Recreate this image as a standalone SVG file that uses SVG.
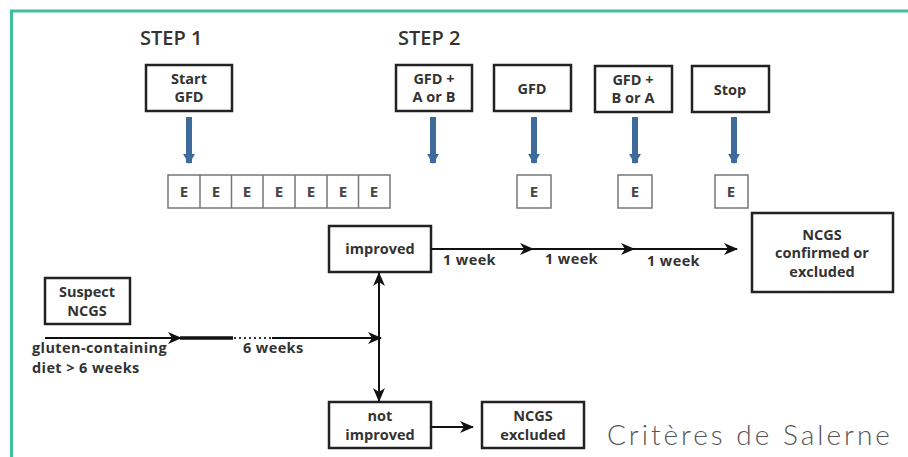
<svg xmlns="http://www.w3.org/2000/svg" width="908" height="457" viewBox="0 0 908 457">
<style>
.t{font-family:"Open Sans","Liberation Sans",sans-serif;font-weight:700;font-size:14.5px;fill:#333;text-anchor:middle}
.tl{font-family:"Open Sans","Liberation Sans",sans-serif;font-weight:700;font-size:14.5px;letter-spacing:0.4px;fill:#333}
.step{font-family:"Open Sans","Liberation Sans",sans-serif;font-weight:600;font-size:20px;fill:#333}
.box{fill:#fff;stroke:#222;stroke-width:2.5}
.ebox{fill:#fff;stroke:#777;stroke-width:1.5}
.e{font-family:"Open Sans","Liberation Sans",sans-serif;font-weight:700;font-size:15px;fill:#444;text-anchor:middle}
.ln{stroke:#111;stroke-width:2;fill:none}
.blue{stroke:#3e6a9c;stroke-width:6;fill:none}
</style>
<defs>
<marker id="ah" viewBox="0 0 14 12" refX="13" refY="6" markerWidth="14" markerHeight="12" orient="auto-start-reverse" markerUnits="userSpaceOnUse">
<path d="M0,0 L14,6 L0,12 L4,6 Z" fill="#111"/>
</marker>
<marker id="bh" viewBox="0 0 10 12" refX="9" refY="6" markerWidth="10" markerHeight="12" orient="auto" markerUnits="userSpaceOnUse">
<path d="M0,0 L10,6 L0,12 Z" fill="#3e6a9c"/>
</marker>
</defs>
<rect width="908" height="457" fill="#fff"/>
<path d="M11.5,457 V11 H908" fill="none" stroke="#41bf9d" stroke-width="3"/>
<text class="step" x="140" y="45">STEP 1</text>
<text class="step" x="398" y="45">STEP 2</text>

<g id="start-gfd"><rect class="box" x="146" y="65" width="86" height="46"/><text class="t" x="189" y="84">Start</text><text class="t" x="189" y="102">GFD</text></g>
<g id="gfd-a-or-b"><rect class="box" x="396" y="65" width="76" height="46"/><text class="t" x="434" y="84">GFD +</text><text class="t" x="434" y="102">A or B</text></g>
<g id="gfd"><rect class="box" x="494" y="65" width="77" height="46"/><text class="t" x="532" y="94">GFD</text></g>
<g id="gfd-b-or-a"><rect class="box" x="595" y="66" width="77" height="46"/><text class="t" x="633" y="85">GFD +</text><text class="t" x="633" y="103">B or A</text></g>
<g id="stop"><rect class="box" x="692" y="66" width="77" height="46"/><text class="t" x="730" y="95">Stop</text></g>

<g id="e-row">
<rect class="ebox" x="168" y="175" width="222" height="33"/>
<path d="M200,175V208M231.5,175V208M263,175V208M295,175V208M327,175V208M358.5,175V208" stroke="#777" stroke-width="1.5"/>
<text class="e" x="184" y="197">E</text><text class="e" x="216" y="197">E</text><text class="e" x="247" y="197">E</text><text class="e" x="279" y="197">E</text><text class="e" x="311" y="197">E</text><text class="e" x="343" y="197">E</text><text class="e" x="374" y="197">E</text>
</g>
<g id="e1"><rect class="ebox" x="517" y="175" width="34" height="33"/><text class="e" x="534" y="197">E</text></g>
<g id="e2"><rect class="ebox" x="618" y="175" width="34" height="33"/><text class="e" x="635" y="197">E</text></g>
<g id="e3"><rect class="ebox" x="715" y="175" width="33" height="33"/><text class="e" x="731" y="197">E</text></g>

<g id="improved"><rect class="box" x="329" y="226" width="102" height="46"/><text class="t" x="380" y="254">improved</text></g>
<g id="not-improved"><rect class="box" x="329" y="402" width="102" height="46"/><text class="t" x="380" y="421">not</text><text class="t" x="380" y="440">improved</text></g>
<g id="ncgs-confirmed"><rect class="box" x="752" y="213" width="141" height="79"/><text class="t" x="822" y="240">NCGS</text><text class="t" x="822" y="258">confirmed or</text><text class="t" x="822" y="277">excluded</text></g>
<g id="suspect"><rect class="box" x="45" y="278" width="85" height="46"/><text class="t" x="87" y="297">Suspect</text><text class="t" x="87" y="316">NCGS</text></g>
<g id="ncgs-excluded"><rect class="box" x="482" y="402" width="102" height="46"/><text class="t" x="533" y="421">NCGS</text><text class="t" x="533" y="440">excluded</text></g>

<g id="connectors">
<line class="blue" x1="189" y1="117" x2="189" y2="163" marker-end="url(#bh)"/>
<line class="blue" x1="433" y1="117" x2="433" y2="163" marker-end="url(#bh)"/>
<line class="blue" x1="534" y1="117" x2="534" y2="163" marker-end="url(#bh)"/>
<line class="blue" x1="635" y1="117" x2="635" y2="163" marker-end="url(#bh)"/>
<line class="blue" x1="734" y1="117" x2="734" y2="163" marker-end="url(#bh)"/>
<line class="ln" x1="45" y1="338" x2="181" y2="338" marker-end="url(#ah)"/>
<line x1="180" y1="338" x2="233" y2="338" stroke="#111" stroke-width="3.5"/>
<line x1="234" y1="338" x2="272" y2="338" stroke="#333" stroke-width="2" stroke-dasharray="2,3"/>
<line class="ln" x1="272" y1="338" x2="381" y2="338" marker-end="url(#ah)"/>
<line class="ln" x1="379" y1="273" x2="379" y2="401" marker-start="url(#ah)" marker-end="url(#ah)"/>
<line class="ln" x1="431" y1="249" x2="533" y2="249" marker-end="url(#ah)"/>
<line class="ln" x1="532" y1="249" x2="634" y2="249" marker-end="url(#ah)"/>
<line class="ln" x1="633" y1="249" x2="737" y2="249" marker-end="url(#ah)"/>
<line class="ln" x1="431" y1="427" x2="473" y2="427" marker-end="url(#ah)"/>
</g>
<text class="tl" x="443" y="265">1 week</text>
<text class="tl" x="545" y="264">1 week</text>
<text class="tl" x="647" y="266">1 week</text>
<text class="tl" x="243" y="353">6 weeks</text>
<text class="tl" x="32" y="353">gluten-containing</text>
<text class="tl" x="32" y="373">diet &gt; 6 weeks</text>
<text x="607" y="445" font-family="Lato,'Open Sans',sans-serif" font-weight="300" font-size="28" letter-spacing="3" fill="#555">Critères de Salerne</text>
</svg>
